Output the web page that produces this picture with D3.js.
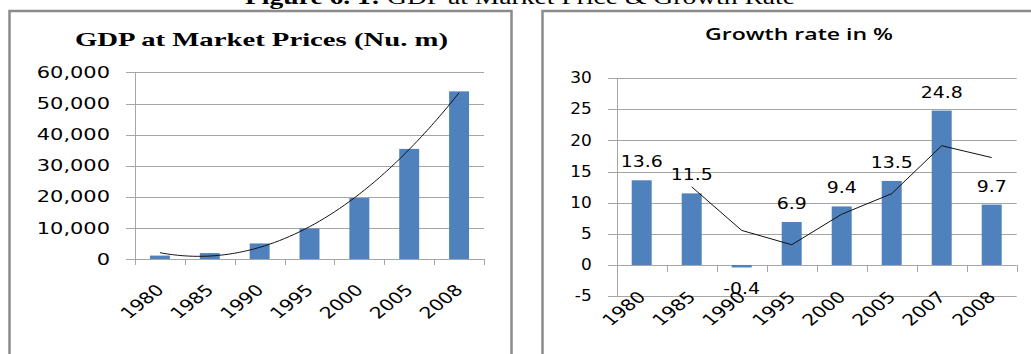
<!DOCTYPE html>
<html>
<head>
<meta charset="utf-8">
<script src="https://cdn.jsdelivr.net/npm/d3@7"></script>
<style>
  body { margin: 0; background: #fff; }
  svg { display: block; }
</style>
</head>
<body>
<div id="chart"></div>
<script>
// GDP panel
const gdpYears = ["1980", "1985", "1990", "1995", "2000", "2005", "2008"];
const gdpValues = [1100, 1900, 5000, 9800, 19600, 35400, 53900];
const gdpTicks = [0, 10000, 20000, 30000, 40000, 50000, 60000];

// growth panel
const growthYears = ["1980", "1985", "1990", "1995", "2000", "2005", "2007", "2008"];
const growthValues = [13.6, 11.5, -0.4, 6.9, 9.4, 13.5, 24.8, 9.7];
const growthTicks = [-5, 0, 5, 10, 15, 20, 25, 30];

const W = 1031, H = 354;
const barColor = "#4f81bd", gridColor = "#a6a6a6", frameColor = "#8c8c8c";
const sans = "'DejaVu Sans', sans-serif";

const svg = d3.select("#chart").append("svg")
    .attr("width", W)
    .attr("height", H);

// text helper: the picture is stretched horizontally, so scale x
function label(g, x, y, txt, opt) {
    return g.append("text")
        .attr("transform", `translate(${x},${y}) scale(${opt.sx || 1},1)` + (opt.rot ? ` rotate(${opt.rot})` : ""))
        .attr("text-anchor", opt.anchor || "middle")
        .attr("dominant-baseline", opt.baseline || "auto")
        .style("font-family", opt.font || sans)
        .style("font-size", opt.size + "px")
        .style("font-weight", opt.weight || "normal")
        .style("fill", "#000")
        .text(txt);
}

// caption, cut at top of picture
const cap = svg.append("text")
    .attr("x", 245).attr("y", 4)
    .attr("textLength", 550)
    .attr("lengthAdjust", "spacingAndGlyphs")
    .style("font-family", "'Liberation Serif', serif")
    .style("font-size", "20px");
cap.append("tspan").style("font-weight", "bold").text("Figure 6. 1:");
cap.append("tspan").text(" GDP at Market Price & Growth Rate");

// frames
svg.append("path")
    .attr("d", `M9.5,${H} V11 H511.5 V${H}`)
    .attr("fill", "none").attr("stroke", frameColor).attr("stroke-width", 2.5);
svg.append("path")
    .attr("d", `M542.5,${H} V11 H${W}`)
    .attr("fill", "none").attr("stroke", frameColor).attr("stroke-width", 2.5);

// ---------- left chart ----------
const g1 = svg.append("g");
const x1 = d3.scaleBand().domain(gdpYears).range([135, 484]).padding(0);
const y1 = d3.scaleLinear().domain([0, 60000]).range([259, 72.4]);

g1.selectAll(".grid")
    .data(gdpTicks)
    .enter().append("line")
    .attr("x1", 126).attr("x2", 484)
    .attr("y1", d => Math.round(y1(d)) + 0.5).attr("y2", d => Math.round(y1(d)) + 0.5)
    .attr("stroke", gridColor);

gdpTicks.forEach(t => label(g1, 110, y1(t), d3.format(",")(t),
    { anchor: "end", baseline: "central", size: 16.5, sx: 1.27 }));

g1.selectAll(".bar")
    .data(gdpValues)
    .enter().append("rect")
    .attr("x", (d, i) => x1(gdpYears[i]) + x1.bandwidth() * 0.3)
    .attr("width", x1.bandwidth() * 0.4)
    .attr("y", d => y1(d))
    .attr("height", d => y1(0) - y1(d))
    .attr("fill", barColor);

g1.append("line")
    .attr("x1", 135.5).attr("x2", 135.5)
    .attr("y1", y1(60000)).attr("y2", y1(0) + 6)
    .attr("stroke", gridColor);
g1.selectAll(".xt")
    .data(gdpYears.concat(["end"]))
    .enter().append("line")
    .attr("x1", (d, i) => Math.round(135 + i * x1.bandwidth()) + 0.5)
    .attr("x2", (d, i) => Math.round(135 + i * x1.bandwidth()) + 0.5)
    .attr("y1", y1(0)).attr("y2", y1(0) + 6)
    .attr("stroke", gridColor);

gdpYears.forEach(d => label(g1, x1(d) + x1.bandwidth() / 2 + 5, 291, d,
    { anchor: "end", size: 16, sx: 1.25, rot: -45 }));

// polynomial (order 2) trendline, least squares over category index
function quadFit(vals) {
    const n = vals.length, xs = vals.map((v, i) => i + 1);
    const m = d3.mean(xs);
    const t = xs.map(x => x - m);
    const St2 = d3.sum(t, v => v * v), St4 = d3.sum(t, v => v ** 4);
    const Sy = d3.sum(vals), Sty = d3.sum(vals, (v, i) => t[i] * v), St2y = d3.sum(vals, (v, i) => t[i] * t[i] * v);
    const b = Sty / St2;
    const c = (St2y - St2 * Sy / n) / (St4 - St2 * St2 / n);
    const a = (Sy - c * St2) / n;
    return x => a + b * (x - m) + c * (x - m) * (x - m);
}
const trend = quadFit(gdpValues);
const trendPts = d3.range(1, 7.001, 0.05).map(x => [x, trend(x)]);
const xi = d3.scaleLinear().domain([1, 7]).range([x1(gdpYears[0]) + x1.bandwidth() / 2, x1(gdpYears[6]) + x1.bandwidth() / 2]);
g1.append("path")
    .datum(trendPts)
    .attr("d", d3.line().x(d => xi(d[0])).y(d => y1(d[1])))
    .attr("fill", "none").attr("stroke", "#111").attr("stroke-width", 1);

label(g1, 75, 46, "GDP at Market Prices (Nu. m)",
    { anchor: "start", size: 19, weight: "bold", font: "'Liberation Serif', serif" })
    .attr("textLength", 373).attr("lengthAdjust", "spacingAndGlyphs");

// ---------- right chart ----------
const g2 = svg.append("g");
const x2 = d3.scaleBand().domain(growthYears).range([616.7, 1016.7]).padding(0);
const y2 = d3.scaleLinear().domain([-5, 30]).range([296.1, 78.2]);

g2.selectAll(".grid")
    .data(growthTicks)
    .enter().append("line")
    .attr("x1", 608).attr("x2", 1016.7)
    .attr("y1", d => Math.round(y2(d)) + 0.5).attr("y2", d => Math.round(y2(d)) + 0.5)
    .attr("stroke", gridColor);

growthTicks.forEach(t => label(g2, 591.7, y2(t), String(t),
    { anchor: "end", baseline: "central", size: 15, sx: 1.13 }));

g2.selectAll(".bar")
    .data(growthValues)
    .enter().append("rect")
    .attr("x", (d, i) => x2(growthYears[i]) + x2.bandwidth() * 0.3)
    .attr("width", x2.bandwidth() * 0.4)
    .attr("y", d => y2(Math.max(0, d)))
    .attr("height", d => Math.abs(y2(d) - y2(0)))
    .attr("fill", barColor);

g2.append("line")
    .attr("x1", 617.5).attr("x2", 617.5)
    .attr("y1", y2(30)).attr("y2", y2(-5))
    .attr("stroke", gridColor);
g2.selectAll(".xt")
    .data(growthYears.concat(["end"]))
    .enter().append("line")
    .attr("x1", (d, i) => Math.round(616.7 + i * x2.bandwidth()) + 0.5)
    .attr("x2", (d, i) => Math.round(616.7 + i * x2.bandwidth()) + 0.5)
    .attr("y1", y2(0)).attr("y2", y2(0) + 7)
    .attr("stroke", gridColor);

// data labels
growthValues.forEach((v, i) => label(g2, x2(growthYears[i]) + x2.bandwidth() / 2,
    v >= 0 ? y2(v) - 13 : y2(v) + 27, String(v), { size: 16, sx: 1.18 }));

// 2-period moving average
const movAvg = growthValues.slice(1).map((v, i) => [growthYears[i + 1], (v + growthValues[i]) / 2]);
g2.append("path")
    .datum(movAvg)
    .attr("d", d3.line().x(d => x2(d[0]) + x2.bandwidth() / 2).y(d => y2(d[1])))
    .attr("fill", "none").attr("stroke", "#111").attr("stroke-width", 1);

growthYears.forEach(d => label(g2, x2(d) + x2.bandwidth() / 2 + 5, 298, d,
    { anchor: "end", size: 16, sx: 1.25, rot: -45 }));

label(g2, 705, 40, "Growth rate in %", { anchor: "start", size: 17, weight: "600", font: "'Open Sans', sans-serif" })
    .attr("textLength", 188).attr("lengthAdjust", "spacingAndGlyphs");
</script>
</body>
</html>
